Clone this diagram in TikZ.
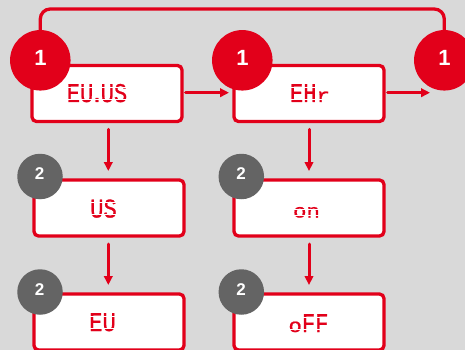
\documentclass[tikz,border=0pt]{standalone}
\usepackage{fontspec}
\setmainfont{Liberation Sans}
\newfontfamily\segfont[FakeStretch=0.82,FakeBold=0.8]{Liberation Mono}
\newfontfamily\segwide[FakeStretch=1.15,FakeBold=0.8]{Liberation Mono}
\usetikzlibrary{arrows.meta}
\definecolor{bgc}{HTML}{D9D9D9}
\definecolor{redc}{HTML}{E2001A}
\definecolor{grayc}{HTML}{646464}
\newcommand{\lowseg}[1]{{\segwide\fontsize{19.5}{19.5}\selectfont #1}}
\tikzset{
  x=1pt,y=-1pt,
  dispbox/.style={draw=redc,fill=white,line width=3.3pt,rounded corners=4.5pt,minimum width=150pt,minimum height=56pt,inner sep=0pt,outer sep=0pt},
  redbadge/.style={circle,fill=redc,minimum size=60.5pt,inner sep=0pt},
  graybadge/.style={circle,fill=grayc,minimum size=45.5pt,inner sep=0pt},
  onetext/.style={text=white,font=\bfseries\fontsize{22}{22}\selectfont},
  twotext/.style={text=white,font=\bfseries\fontsize{17}{17}\selectfont},
  segtext/.style={text=redc,inner sep=0pt,anchor=base,font=\segfont\fontsize{27}{27}\selectfont},
  arr/.style={draw=redc,line width=3pt,line cap=round,-{Triangle[length=9pt,width=8.5pt]}},
  loopline/.style={draw=redc,line width=3.3pt,rounded corners=10pt},
  segcut/.style={draw=white,line width=0.7pt}
}
\begin{document}
\begin{tikzpicture}
\useasboundingbox[fill=bgc] (0,0) rectangle (465,350);
\coordinate (top) at (240,9);
\node[dispbox] (b1) at (107,93.5) {};
\node[dispbox] (b2) at (309,93.5) {};
\node[dispbox] (b3) at (109,208) {};
\node[dispbox] (b4) at (309,208) {};
\node[dispbox] (b5) at (109,322) {};
\node[dispbox] (b6) at (309,322) {};
\node[redbadge] (c1) at (40.3,60.3) {};
\node[redbadge] (c2) at (242.3,60.3) {};
\node[redbadge] (c3) at (444.3,60.3) {};
\node[graybadge] (g3) at (40,176.5) {};
\node[graybadge] (g4) at (241.3,176.5) {};
\node[graybadge] (g5) at (40,292) {};
\node[graybadge] (g6) at (241.3,292) {};
\draw[loopline] (c1.north) -- (c1.north |- top) -- (c3.north |- top) -- (c3.north);
\node[onetext] at (40.5,57.5) {1};
\node[onetext] at (242.5,57.5) {1};
\node[onetext] at (444.5,57.5) {1};
\node[twotext] at (39.5,174) {2};
\node[twotext] at (241,174) {2};
\node[twotext] at (39.5,289.5) {2};
\node[twotext] at (241,289.5) {2};
\node[segtext] (t1) at (97,102) {EU\kern-3pt.\kern-3pt US};
\node[segtext] (t2) at (310,102) {EH\lowseg{r}};
\node[segtext] (t3) at (103.5,217.5) {US};
\node[segtext] (t4) at (306.5,217.5) {\lowseg{on}};
\node[segtext] (t5) at (102.5,331) {EU};
\node[segtext] (t6) at (308.5,332) {\lowseg{o}FF};
\foreach \n in {t1,t2,t3,t5,t6}{
  \draw[segcut] ([yshift=3pt]\n.base west) -- ([yshift=3pt]\n.base east);
  \draw[segcut] ([yshift=15pt]\n.base west) -- ([yshift=15pt]\n.base east);
}
\draw[segcut] ([yshift=2.4pt]t4.base west) -- ([yshift=2.4pt]t4.base east);
\draw[segcut] ([yshift=8.2pt]t4.base west) -- ([yshift=8.2pt]t4.base east);
\coordinate (e3) at (430,92.7);
\draw[arr] ([xshift=3.5pt,yshift=0.8pt]b1.east) -- ([xshift=-5pt,yshift=0.8pt]b2.west);
\draw[arr] ([xshift=3.5pt,yshift=0.8pt]b2.east) -- (e3);
\draw[arr] ([xshift=1.3pt,yshift=-7.8pt]b1.south) -- ([xshift=-0.7pt,yshift=9pt]b3.north);
\draw[arr] ([yshift=-7.8pt]b2.south) -- ([yshift=9pt]b4.north);
\draw[arr] ([xshift=-0.7pt,yshift=-8pt]b3.south) -- ([xshift=-0.7pt,yshift=9pt]b5.north);
\draw[arr] ([yshift=-8pt]b4.south) -- ([yshift=9pt]b6.north);
\end{tikzpicture}
\end{document}
